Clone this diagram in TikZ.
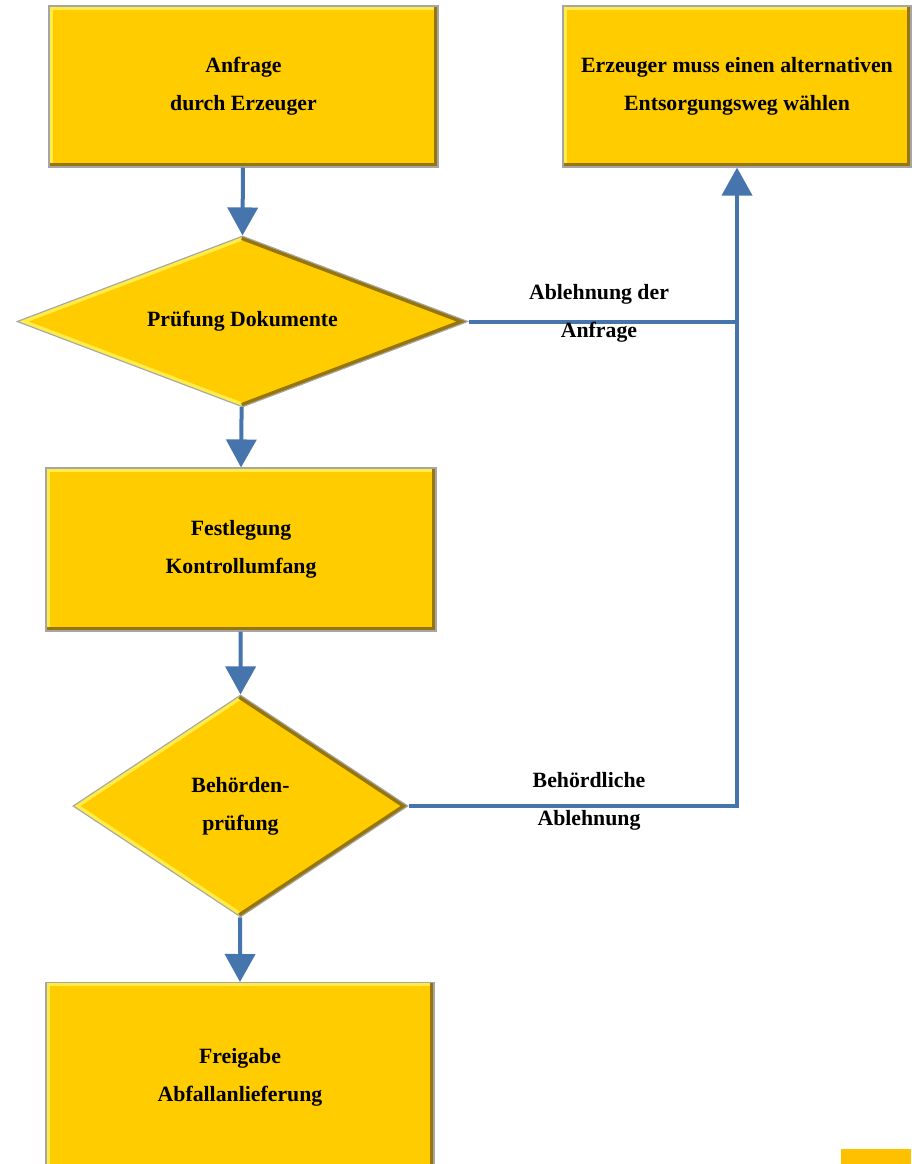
\documentclass[tikz,border=0pt]{standalone}
\usepackage{fontspec}
\setmainfont{Liberation Serif}
\usetikzlibrary{shapes.geometric,arrows.meta}

\definecolor{boxyellow}{RGB}{255,204,0}
\definecolor{bevellight}{RGB}{255,236,70}
\definecolor{beveldark}{RGB}{150,118,10}
\definecolor{flowblue}{RGB}{70,116,172}
\definecolor{tabyellow}{RGB}{255,192,0}

\tikzset{
	flowbox/.style={rectangle, draw=gray!70, line width=0.8pt, fill=boxyellow,
		align=center, inner sep=0pt,
		path picture={
			\draw[bevellight, line width=0.18cm]
			(path picture bounding box.south west) --
			(path picture bounding box.north west) --
			(path picture bounding box.north east);
			\draw[beveldark, line width=0.18cm]
			(path picture bounding box.north east) --
			(path picture bounding box.south east) --
			(path picture bounding box.south west);}},
	decision/.style={diamond, draw=gray!70, line width=0.8pt, fill=boxyellow,
		align=center, inner sep=0pt,
		path picture={
			\draw[bevellight, line width=0.2cm]
			(path picture bounding box.south) --
			(path picture bounding box.west) --
			(path picture bounding box.north);
			\draw[beveldark, line width=0.2cm]
			(path picture bounding box.north) --
			(path picture bounding box.east) --
			(path picture bounding box.south);}},
	flowarrow/.style={flowblue, line width=0.1cm,
		-{Triangle[width=0.75cm,length=0.7cm]}},
	flowline/.style={flowblue, line width=0.1cm},
	flowlabel/.style={align=center, inner sep=0pt}
}

\begin{document}
\begin{tikzpicture}[font=\fontsize{15.5}{27}\selectfont\bfseries]
	
	\useasboundingbox (0,0) rectangle (22.775,-29.1);
	
	% boxes
	\node[flowbox, minimum width=9.725cm, minimum height=4.025cm]
	(anfrage) at (6.0875,-2.1625) {Anfrage\\durch Erzeuger};
	\node[flowbox, minimum width=8.7cm, minimum height=4.025cm]
	(alternativ) at (18.425,-2.1625)
	{Erzeuger muss einen alternativen\\Entsorgungsweg wählen};
	\node[decision, aspect=2.64, minimum width=11.275cm, minimum height=4.275cm]
	(pruefung) at (6.0625,-8.0375) {Prüfung Dokumente};
	\node[flowbox, minimum width=9.75cm, minimum height=4.075cm]
	(umfang) at (6.025,-13.7375) {Festlegung\\Kontrollumfang};
	\node[decision, aspect=1.51, minimum width=8.375cm, minimum height=5.55cm]
	(behoerde) at (6.0125,-20.15) {Behörden-\\prüfung};
	\node[flowbox, minimum width=9.7cm, minimum height=4.75cm, anchor=north]
	(freigabe) at (6.0,-24.55) {Freigabe\\Abfallanlieferung};
	
	\fill[tabyellow] (21.025,-28.725) rectangle (22.775,-29.3);
	
	% connectors
	\draw[flowarrow] (anfrage) -- (pruefung.north);
	\draw[flowarrow] (pruefung) -- (umfang.north);
	\draw[flowarrow] (umfang) -- (behoerde.north);
	\draw[flowarrow] (behoerde) -- (freigabe.north);
	
	\coordinate (knick) at (pruefung.east -| alternativ.south);
	\draw[flowline] (pruefung.east) -- (knick);
	\draw[flowarrow] (behoerde.east) -| (alternativ.south);
	
	\node[flowlabel] (ablehnung) at (14.975,-7.825) {Ablehnung der\\Anfrage};
	\node[flowlabel] (behlabel) at (14.725,-20.025) {Behördliche\\Ablehnung};
	
\end{tikzpicture}
\end{document}
